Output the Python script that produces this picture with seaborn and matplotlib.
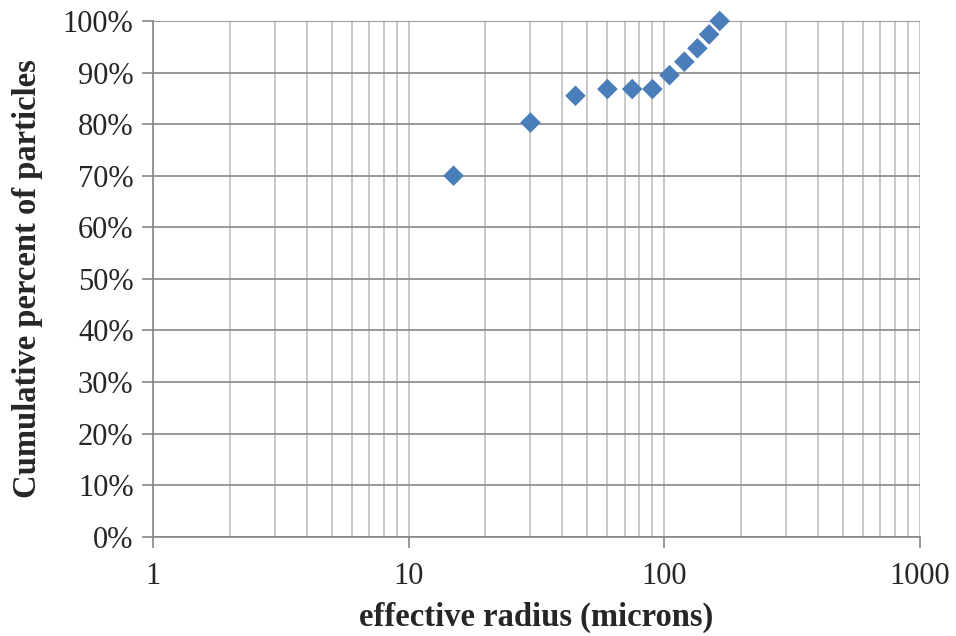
import matplotlib
matplotlib.use("Agg")
import matplotlib.pyplot as plt
import seaborn as sns
import pandas as pd
import numpy as np
from matplotlib.ticker import FixedLocator, FuncFormatter, NullFormatter

radius = [15, 30, 45, 60, 75, 90, 105, 120, 135, 150, 165]
cum_pct = [0.700, 0.803, 0.855, 0.868, 0.868, 0.868, 0.895, 0.921, 0.947, 0.974, 1.000]

x_ticks = [1, 10, 100, 1000]
y_ticks = [0.0, 0.1, 0.2, 0.3, 0.4, 0.5, 0.6, 0.7, 0.8, 0.9, 1.0]

sns.set_style("white")
plt.rcParams['font.family'] = ['Liberation Serif', 'DejaVu Serif']

df = pd.DataFrame({"radius": radius, "cum": cum_pct})

fig = plt.figure(figsize=(9.56, 6.36), dpi=100)
ax = fig.add_axes([0.160, 0.156, 0.802, 0.811])

ax.set_xscale("log")
ax.set_xlim(1, 1000)
ax.set_ylim(0, 1.0)

minor = [m * d for d in [1, 10, 100] for m in range(2, 10)]
ax.xaxis.set_major_locator(FixedLocator(x_ticks))
ax.xaxis.set_minor_locator(FixedLocator(minor))
ax.xaxis.set_minor_formatter(NullFormatter())
ax.xaxis.set_major_formatter(FuncFormatter(lambda v, p: f"{int(round(v))}"))
ax.yaxis.set_major_locator(FixedLocator(y_ticks))
ax.yaxis.set_major_formatter(FuncFormatter(lambda v, p: f"{int(round(v*100))}%"))

ax.grid(True, which="major", axis="y", color="#868686", linewidth=1.2, zorder=0)
ax.grid(True, which="both", axis="x", color="#bfbfbf", linewidth=1.2, zorder=0)
ax.set_axisbelow(True)

for s in ["top", "right"]:
    ax.spines[s].set_visible(False)
for s in ["left", "bottom"]:
    ax.spines[s].set_color("#868686")
    ax.spines[s].set_linewidth(1.2)

ax.tick_params(axis="x", which="major", direction="out", length=8, width=1.2,
               color="#868686", labelsize=22, pad=10, bottom=True)
ax.tick_params(axis="x", which="minor", length=0)
ax.tick_params(axis="y", which="major", direction="out", length=8, width=1.2,
               color="#868686", labelsize=22, pad=6, left=True)

sns.scatterplot(data=df, x="radius", y="cum", ax=ax, marker="D", s=110,
                color="#4a7ebb", edgecolor="none", linewidth=0, zorder=3, clip_on=False)

ax.set_xlabel("effective radius (microns)", fontsize=23.5, fontweight="bold", labelpad=8)
ax.set_ylabel("Cumulative percent of particles", fontsize=23.5, fontweight="bold", labelpad=14)

fig.savefig("out.png", dpi=100)
